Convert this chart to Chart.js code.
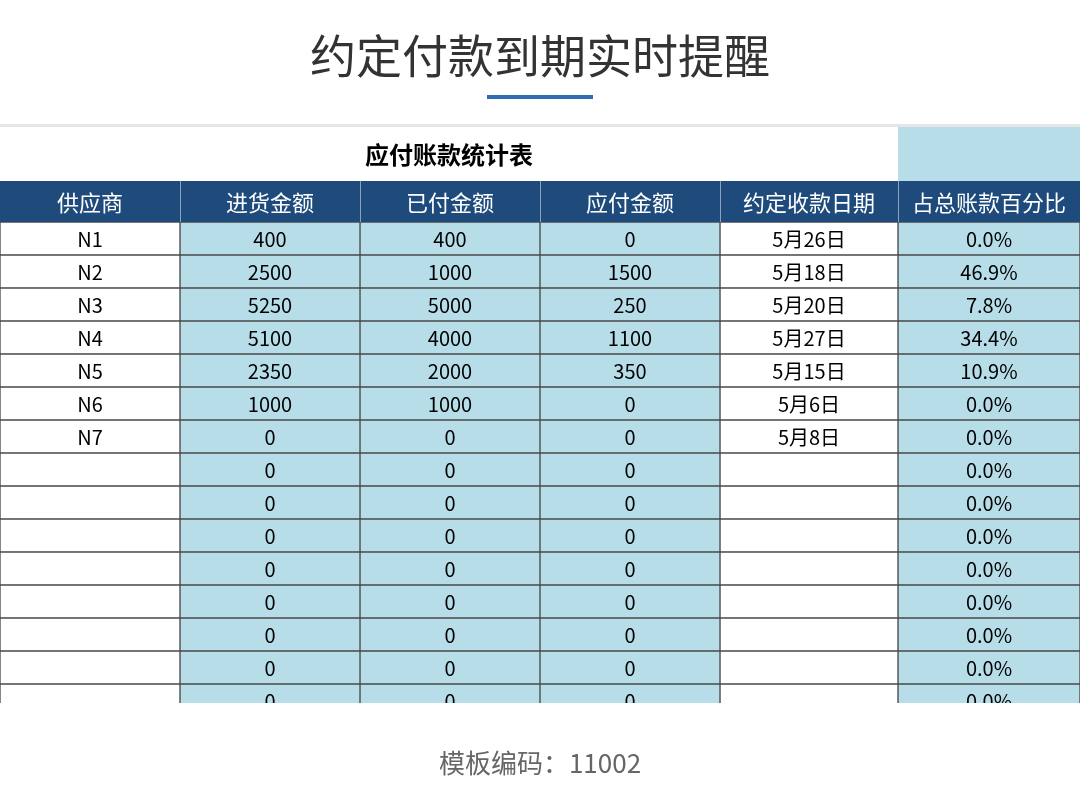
<!DOCTYPE html>
<html><head><meta charset="utf-8">
<script src="https://cdn.jsdelivr.net/npm/chart.js@4"></script>
<style>html,body{margin:0;padding:0;background:#fff}#w{width:1080px;height:798px;position:relative}</style>
</head><body><div id="w"><canvas id="c"></canvas></div>
<script>
const pageTitle = '约定付款到期实时提醒';
const tableTitle = '应付账款统计表';
const headers = ['供应商','进货金额','已付金额','应付金额','约定收款日期','占总账款百分比'];
const suppliers = ['N1','N2','N3','N4','N5','N6','N7','','','','','','','',''];
const purchase = [400,2500,5250,5100,2350,1000,0,0,0,0,0,0,0,0,0];
const paid = [400,1000,5000,4000,2000,1000,0,0,0,0,0,0,0,0,0];
const payable = [0,1500,250,1100,350,0,0,0,0,0,0,0,0,0,0];
const dueDates = ['5月26日','5月18日','5月20日','5月27日','5月15日','5月6日','5月8日','','','','','','','',''];
const percents = ['0.0%','46.9%','7.8%','34.4%','10.9%','0.0%','0.0%','0.0%','0.0%','0.0%','0.0%','0.0%','0.0%','0.0%','0.0%'];
const footer = '模板编码：11002';

const colEdges = [0,180,360,540,720,898,1080];
const colFill = ['#ffffff','#b7dde8','#b7dde8','#b7dde8','#ffffff','#b7dde8'];
const rowLabels = suppliers.map((_,i)=>'r'+i);
const columns = [suppliers, purchase.map(String), paid.map(String), payable.map(String), dueDates, percents];
const FONT = '"Noto Sans CJK SC","Noto Sans",sans-serif';

const datasets = colFill.map((f,ci)=>({
  data: rowLabels.map(()=>[colEdges[ci], colEdges[ci+1]]),
  backgroundColor: f, borderColor: '#4a4a4a', borderWidth: 1, borderSkipped: false,
  barPercentage: 1, categoryPercentage: 1, grouped: false
}));

const tablePlugin = {
  id: 'tbl',
  beforeDraw(chart){
    const ctx = chart.ctx, x = chart.scales.x;
    ctx.save();
    ctx.fillStyle = '#fff'; ctx.fillRect(0,0,1080,798);
    ctx.fillStyle = '#333'; ctx.font = '46px ' + FONT; ctx.textAlign = 'center'; ctx.textBaseline = 'middle';
    ctx.fillText(pageTitle, 540, 56);
    ctx.fillStyle = '#2e6db4'; ctx.fillRect(487, 95, 106, 4);
    ctx.fillStyle = '#e6e6e6'; ctx.fillRect(0, 124, 1080, 3);
    ctx.fillStyle = '#b7dde8'; ctx.fillRect(x.getPixelForValue(898), 127, 182, 54);
    ctx.fillStyle = '#000'; ctx.font = 'bold 24px ' + FONT;
    ctx.fillText(tableTitle, 449, 155);
    ctx.fillStyle = '#1e4b7c'; ctx.fillRect(0, 181, 1080, 41);
    ctx.strokeStyle = '#8aa0bb'; ctx.lineWidth = 1;
    ctx.font = '22px ' + FONT; 
    headers.forEach((h,i)=>{
      const a = x.getPixelForValue(colEdges[i]), b = x.getPixelForValue(colEdges[i+1]);
      if(i>0){ctx.beginPath();ctx.moveTo(a+0.5,181);ctx.lineTo(a+0.5,222);ctx.stroke();}
      ctx.fillStyle = '#fff'; ctx.fillText(h, (a+b)/2, 203);
    });
    ctx.restore();
  },
  afterDatasetsDraw(chart){
    const ctx = chart.ctx, x = chart.scales.x, y = chart.scales.y;
    ctx.save();
    ctx.font = '20px ' + FONT; ctx.textAlign = 'center'; ctx.textBaseline = 'middle'; ctx.fillStyle = '#000';
    columns.forEach((col,ci)=>{
      const cx = (x.getPixelForValue(colEdges[ci]) + x.getPixelForValue(colEdges[ci+1]))/2;
      col.forEach((t,ri)=>{ if(t!=='') ctx.fillText(t, cx, y.getPixelForValue(ri)+1); });
    });
    ctx.fillStyle = '#fff'; ctx.fillRect(0, 703, 1080, 95);
    ctx.fillStyle = '#666'; ctx.font = '26px ' + FONT;
    ctx.fillText(footer, 540, 763);
    ctx.restore();
  }
};

new Chart(document.getElementById('c'), {
  type: 'bar',
  data: { labels: rowLabels, datasets },
  options: {
    indexAxis: 'y', responsive: true, maintainAspectRatio: false, animation: false,
    layout: { padding: { top: 222, bottom: 798-222-15*33, left: 0, right: 0 } },
    scales: {
      x: { type: 'linear', min: 0, max: 1080, display: false },
      y: { type: 'category', display: false, offset: true }
    },
    plugins: { legend: { display: false }, tooltip: { enabled: false } }
  },
  plugins: [tablePlugin]
});
</script></div></body></html>
